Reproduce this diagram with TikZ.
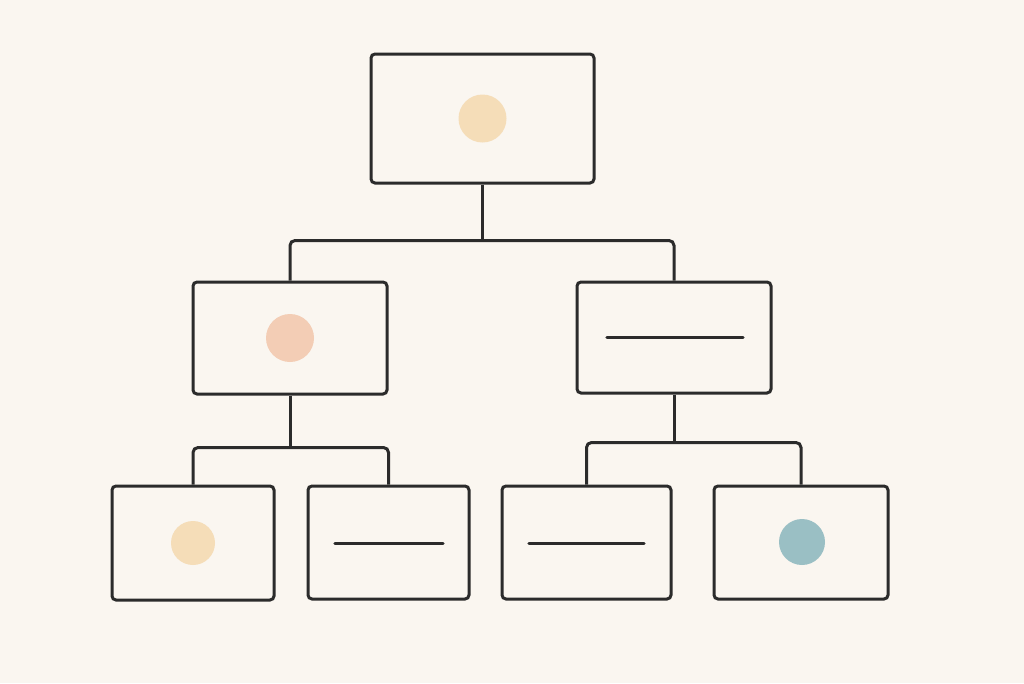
\documentclass[tikz,border=0pt]{standalone}
\usetikzlibrary{calc}
\definecolor{bg}{HTML}{FAF6F0}
\definecolor{ink}{HTML}{2B2B2B}
\definecolor{sand}{HTML}{F5DDB8}
\definecolor{peach}{HTML}{F3CDB5}
\definecolor{teal}{HTML}{9ABFC4}
\tikzset{
  card/.style={draw=ink, line width=3pt, rounded corners=4pt, fill=bg, inner sep=0pt},
  dot/.style={circle, inner sep=0pt, draw=none},
  conn/.style={draw=ink, line width=3pt, rounded corners=5pt},
  bar/.style={draw=ink, line width=3.2pt, line cap=round}
}
\begin{document}
\begin{tikzpicture}[x=1pt,y=-1pt]
\fill[bg] (0,0) rectangle (1024,683);
\useasboundingbox (0,0) rectangle (1024,683);
% cards
\node[card, minimum width=223pt, minimum height=129pt] (top) at (482.5,118.5) {};
\node[card, minimum width=194pt, minimum height=112pt] (ml) at (290,338) {};
\node[card, minimum width=194pt, minimum height=111pt] (mr) at (674,337.5) {};
\node[card, minimum width=162pt, minimum height=114pt] (b1) at (193,543) {};
\node[card, minimum width=161pt, minimum height=113pt] (b2) at (388.5,542.5) {};
\node[card, minimum width=169pt, minimum height=113pt] (b3) at (586.5,542.5) {};
\node[card, minimum width=174pt, minimum height=113pt] (b4) at (801,542.5) {};
% junction points
\coordinate (j1) at (482.5,240.5);
\coordinate (j2) at (290,447.5);
\coordinate (j3) at (674,442.5);
% connectors
\draw[conn] (top.south) -- (j1);
\draw[conn] (ml.north) |- (j1) -| (mr.north);
\draw[conn] (ml.south) -- (j2);
\draw[conn] (b1.north) |- (j2) -| (b2.north);
\draw[conn] (mr.south) -- (j3);
\draw[conn] (b3.north) |- (j3) -| (b4.north);
% dots
\node[dot, fill=sand, minimum size=48pt] (d1) at (top.center) {};
\node[dot, fill=peach, minimum size=48pt] (d2) at (ml.center) {};
\node[dot, fill=sand, minimum size=44pt] (d3) at (b1.center) {};
\node[dot, fill=teal, minimum size=46pt] (d4) at (802,542) {};
% text bars
\coordinate (l1a) at (607,337.5); \coordinate (l1b) at (743,337.5);
\coordinate (l2a) at (335,543.5); \coordinate (l2b) at (443,543.5);
\coordinate (l3a) at (529,543.5); \coordinate (l3b) at (644,543.5);
\draw[bar] (l1a) -- (l1b);
\draw[bar] (l2a) -- (l2b);
\draw[bar] (l3a) -- (l3b);
\end{tikzpicture}
\end{document}
